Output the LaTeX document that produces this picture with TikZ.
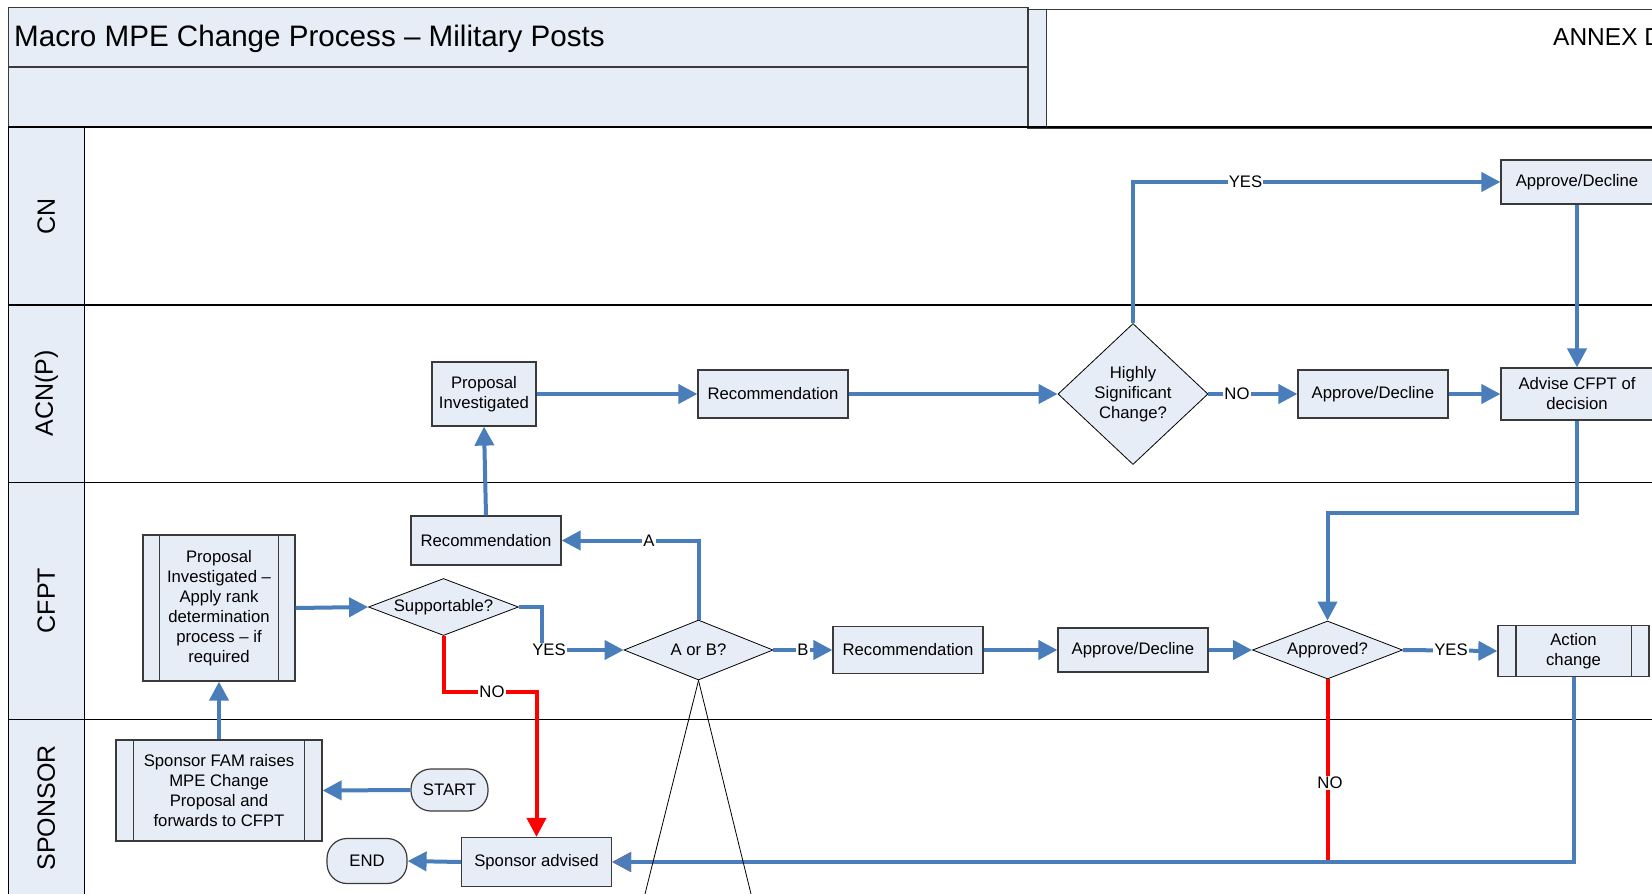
\documentclass[tikz,border=0pt]{standalone}
\usepackage{fontspec}
\setmainfont{Liberation Sans}
\usetikzlibrary{arrows.meta,shapes.geometric,calc}
\definecolor{boxfill}{HTML}{E7EDF7}
\definecolor{flowblue}{HTML}{4A7EBB}
\definecolor{edgegray}{HTML}{3A3A3A}
\newcommand{\boxfont}{\fontsize{16.7pt}{20pt}\selectfont}
\newcommand{\lanefont}{\fontsize{25pt}{28pt}\selectfont}

\begin{document}
\begin{tikzpicture}[x=1pt,y=-1pt,
  every node/.style={font=\boxfont},
  stepbox/.style={draw=edgegray, fill=boxfill, line width=1.2pt, align=center,
    inner sep=2pt, minimum width=150pt, minimum height=48pt},
  decision/.style={diamond, draw=black, fill=boxfill, line width=0.8pt, align=center,
    inner sep=0pt, aspect=2.6, minimum width=150pt, minimum height=58pt},
  terminal/.style={draw=edgegray, fill=boxfill, line width=1.2pt,
    rounded corners=20pt, minimum width=78pt, minimum height=43pt},
  flow/.style={draw=flowblue, line width=4pt, -{Triangle[length=19pt,width=19pt]}},
  noflow/.style={draw=red, line width=4pt, -{Triangle[length=19pt,width=19pt]}},
  lbl/.style={fill=white, inner sep=1pt},
  lanetitle/.style={font=\lanefont, rotate=90},
  laneline/.style={draw=black, line width=1.3pt},
  frame/.style={draw=edgegray, line width=1.6pt},
  procline/.style={draw=edgegray, line width=1.2pt},
]
\useasboundingbox (0,0) rectangle (1652,894);
\clip (0,0) rectangle (1652,894);

% ---- header band ----
\filldraw[fill=boxfill, frame] (8.4,7.4) rectangle (1028,126.5);
\draw[frame] (8.4,67) -- (1028,67);
\filldraw[fill=boxfill, frame] (1028,9.5) rectangle (1046.5,128);
\draw[frame] (1046.5,9.5) rectangle (1720,128);
\node[anchor=base west, inner sep=0pt, font=\fontsize{29.6pt}{32pt}\selectfont] (title) at (14,46.7)
  {Macro MPE Change Process – Military Posts};
\node[anchor=base west, inner sep=0pt, font=\fontsize{24.5pt}{28pt}\selectfont] (annex) at (1553,45.7)
  {ANNEX D};

% ---- swim lanes ----
\fill[boxfill] (8.4,127) rectangle (84.3,900);
\draw[laneline] (8.4,127) -- (1720,127);
\draw[laneline] (8.4,305) -- (1720,305);
\draw[laneline] (8.4,482.5) -- (1720,482.5);
\draw[laneline] (8.4,719.5) -- (1720,719.5);
\draw[laneline] (8.4,126) -- (8.4,900);
\draw[laneline] (84.3,127) -- (84.3,900);
\node[lanetitle] (lcn) at (46.3,216) {CN};
\node[lanetitle] (lacn) at (46.3,393.5) {ACN(P)};
\node[lanetitle] (lcfpt) at (46.3,600.5) {CFPT};
\node[lanetitle] (lsp) at (46.3,808) {SPONSOR};

% ---- steps ----
% CN
\node[stepbox, minimum width=152pt, minimum height=44pt] (ad2) at (1577,182) {Approve/Decline};
% ACN(P)
\node[stepbox, minimum width=104pt, minimum height=64pt] (pinv) at (484,394) {Proposal\\Investigated};
\node[stepbox] (rec1) at (773,394) {Recommendation};
\node[decision, aspect=1, minimum width=150pt, minimum height=141pt] (hsc) at (1133,394)
  {Highly\\Significant\\Change?};
\node[stepbox] (ad1) at (1373,394) {Approve/Decline};
\node[stepbox, minimum width=152pt, minimum height=52pt] (adv) at (1577,394) {Advise CFPT of\\decision};
% CFPT
\node[stepbox, minimum height=49pt] (rec2) at (486,540.5) {Recommendation};
\node[stepbox, minimum width=152pt, minimum height=146pt] (pinv2) at (219,608)
  {Proposal\\Investigated –\\Apply rank\\determination\\process – if\\required};
\node[decision, minimum height=57pt] (sup) at (443.5,607) {Supportable?};
\node[decision, minimum width=149pt, minimum height=60pt] (aob) at (698.5,650) {A or B?};
\node[stepbox, minimum height=47pt] (rec3) at (908,650) {Recommendation};
\node[stepbox, minimum height=44pt] (ad3) at (1133,650) {Approve/Decline};
\node[decision] (appd) at (1327.5,650) {Approved?};
\node[stepbox, minimum width=151pt, minimum height=51pt] (act) at (1573.5,651) {Action\\change};
% SPONSOR
\node[stepbox, minimum width=206pt, minimum height=101pt] (sfam) at (219,790.5)
  {Sponsor FAM raises\\MPE Change\\Proposal and\\forwards to CFPT};
\node[terminal, minimum width=77pt, minimum height=42pt] (start) at (449.5,790) {START};
\node[terminal, minimum width=80pt, minimum height=45pt] (endn) at (367,861) {END};
\node[stepbox, minimum height=49pt] (sadv) at (536.5,862) {Sponsor advised};

% side bars of the predefined-process boxes
\draw[procline] ([xshift=17pt]pinv2.north west) -- ([xshift=17pt]pinv2.south west);
\draw[procline] ([xshift=-17pt]pinv2.north east) -- ([xshift=-17pt]pinv2.south east);
\draw[procline] ([xshift=18pt]sfam.north west) -- ([xshift=18pt]sfam.south west);
\draw[procline] ([xshift=-18pt]sfam.north east) -- ([xshift=-18pt]sfam.south east);
\draw[procline] ([xshift=18.5pt]act.north west) -- ([xshift=18.5pt]act.south west);
\draw[procline] ([xshift=-18pt]act.north east) -- ([xshift=-18pt]act.south east);

% ---- connectors ----
\draw[flow] (start.west) -- (sfam.east);
\draw[flow] (sfam.north) -- (pinv2.south);
\draw[flow] (pinv2.east) -- (sup.west);
\draw[flow] (sup.east) -- ++(23,0) |- (aob.west);
\node[lbl] (lyes1) at (549,650) {YES};
\draw[noflow] (sup.south) -- ++(0,56.5) -| (sadv.north);
\node[lbl] (lno1) at (492,692) {NO};
\draw[flow] (aob.north) |- (rec2.east);
\node[lbl] (la) at (649,540.5) {A};
\draw[flow] (rec2.north) -- (pinv.south);
\draw[flow] (pinv.east) -- (rec1.west);
\draw[flow] (rec1.east) -- (hsc.west);
\draw[flow] (hsc.north) |- (ad2.west);
\node[lbl] (lyes2) at (1245.5,182) {YES};
\draw[flow] (hsc.east) -- (ad1.west);
\node[lbl] (lno2) at (1237,394) {NO};
\draw[flow] (ad1.east) -- (adv.west);
\draw[flow] (ad2.south) -- (adv.north);
\draw[flow] (adv.south) -- ++(0,92) -| (appd.north);
\draw[flow] (aob.east) -- (rec3.west);
\node[lbl] (lb) at (803,650) {B};
\draw[flow] (rec3.east) -- (ad3.west);
\draw[flow] (ad3.east) -- (appd.west);
\draw[flow] (appd.east) -- (act.west);
\node[lbl] (lyes3) at (1451,650) {YES};
\draw[noflow] (appd.south) |- (sadv.east);
\node[lbl] (lno3) at (1330,783) {NO};
\draw[flow] (act.south) |- (sadv.east);
\draw[flow] (sadv.west) -- (endn.east);

% thin lines falling from the A or B? decision
\coordinate (fl) at (645,894);
\coordinate (fr) at (751,894);
\draw[black, line width=0.8pt] (aob.south) -- (fl);
\draw[black, line width=0.8pt] (aob.south) -- (fr);
\end{tikzpicture}
\end{document}
